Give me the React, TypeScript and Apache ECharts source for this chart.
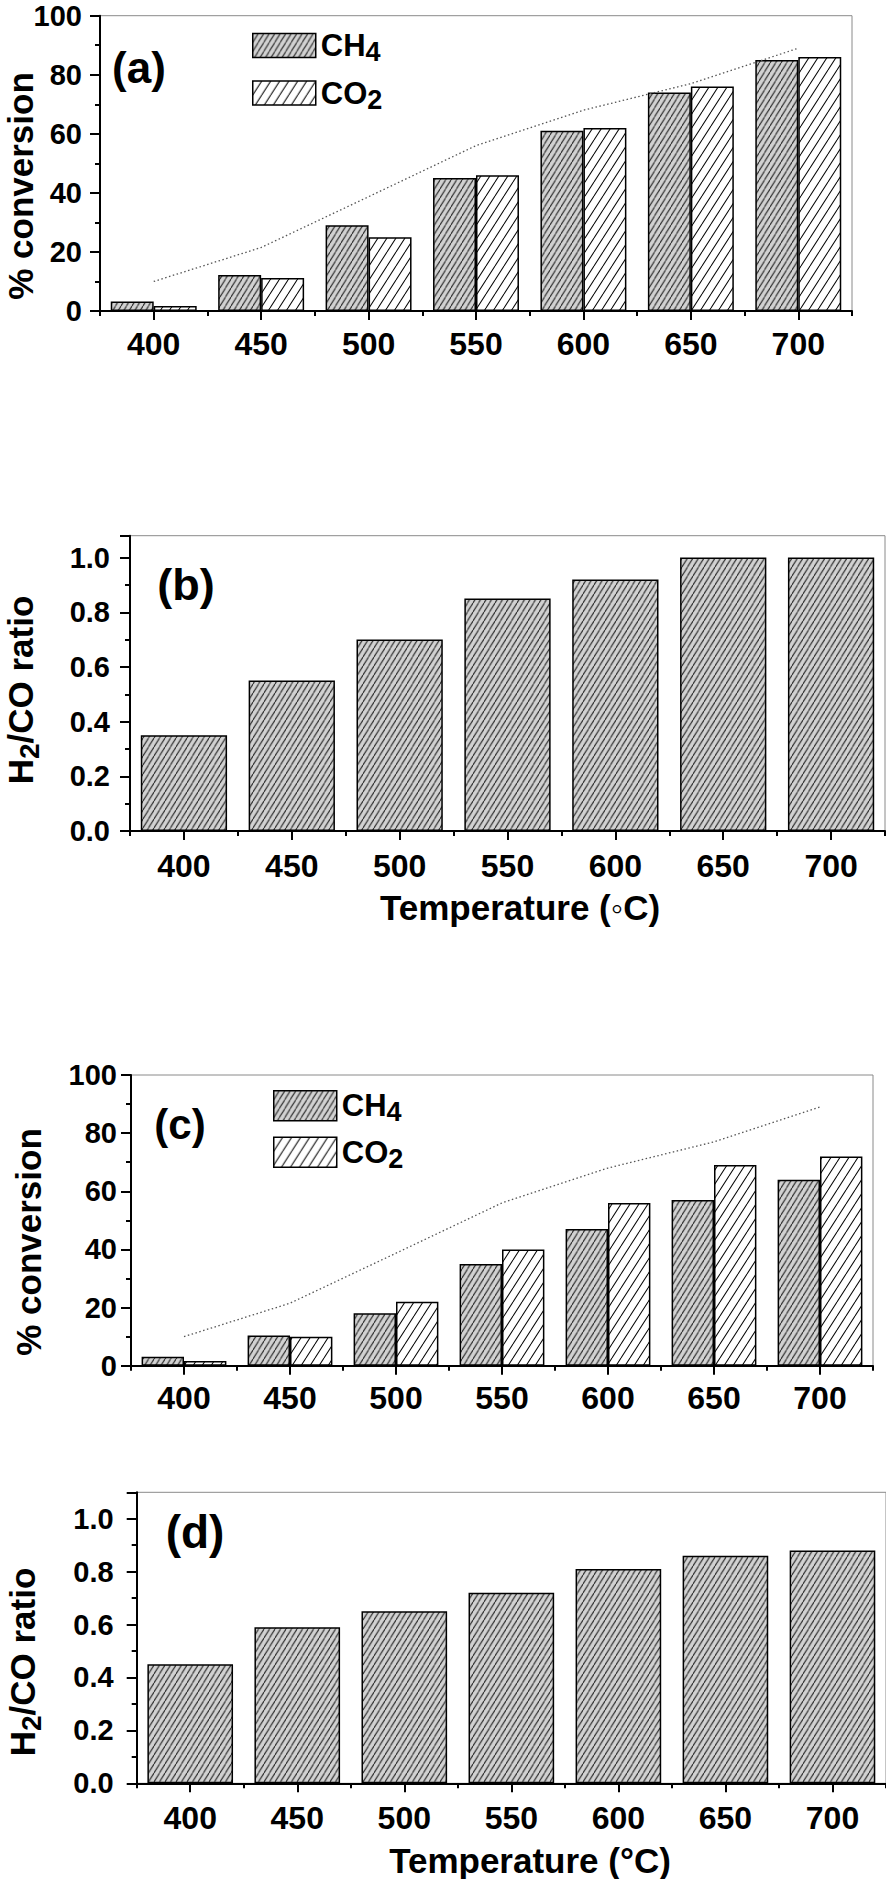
import React, { useEffect, useRef } from 'react';
import * as echarts from 'echarts';

// ---------- data ----------
const temperatures = ['400', '450', '500', '550', '600', '650', '700'];
const ch4ConversionA = [3.2, 12.2, 29, 45, 61, 74, 85];
const co2ConversionA = [1.7, 11.2, 25, 46, 62, 76, 86];
const equilibriumLine = [10, 21.5, 38.7, 56, 68, 77, 89];
const h2coRatioB = [0.35, 0.55, 0.7, 0.85, 0.92, 1.0, 1.0];
const ch4ConversionC = [3.1, 10.4, 18, 35, 47, 57, 64];
const co2ConversionC = [1.6, 10, 22, 40, 56, 69, 72];
const h2coRatioD = [0.45, 0.59, 0.65, 0.72, 0.81, 0.86, 0.88];

const FONT = 'Liberation Sans, Arial, Helvetica, sans-serif';

function hatch(bg: string, w: number, h: number, lw: number) {
  const s = 4;
  const c = document.createElement('canvas');
  c.width = w * s;
  c.height = h * s;
  const ctx = c.getContext('2d') as CanvasRenderingContext2D;
  ctx.fillStyle = bg;
  ctx.fillRect(0, 0, c.width, c.height);
  ctx.strokeStyle = '#000';
  ctx.lineWidth = lw * s;
  ctx.beginPath();
  for (const dx of [-w, 0, w]) {
    ctx.moveTo(dx * s, h * s);
    ctx.lineTo((dx + w) * s, 0);
  }
  ctx.stroke();
  return { image: c, repeat: 'repeat', imageWidth: w, imageHeight: h } as any;
}

export default function App() {
  const ref = useRef<HTMLDivElement>(null);

  useEffect(() => {
    if (!ref.current) return;
    const chart = echarts.init(ref.current, null, { renderer: 'svg' });
    const grayHatch = hatch('#d2d2d2', 5.5, 9, 0.9);
    const whiteHatch = hatch('#ffffff', 9, 14, 1);

    const grids = [
      { left: 100, top: 15.7, width: 752, height: 295.3 },
      { left: 130, top: 535.7, width: 755, height: 295.3 },
      { left: 131, top: 1075, width: 742, height: 290.7 },
      { left: 136.7, top: 1492.3, width: 752, height: 291 },
    ].map((g) => ({ ...g, show: true, borderColor: '#8a8a8a', borderWidth: 1, backgroundColor: 'transparent' }));

    const labelMargins = [16.5, 19, 16.5, 19];
    const xAxes: any[] = [];
    grids.forEach((_, i) => {
      xAxes.push({
        type: 'category',
        gridIndex: i,
        position: 'bottom',
        data: temperatures,
        boundaryGap: true,
        axisLine: { show: true, onZero: false, lineStyle: { color: '#000', width: 2 } },
        axisTick: { show: true, alignWithLabel: true, length: 9, lineStyle: { color: '#000', width: 2 } },
        axisLabel: { show: true, margin: labelMargins[i], color: '#000', fontSize: 32, fontWeight: 'bold', fontFamily: FONT },
        splitLine: { show: false },
      });
      xAxes.push({
        type: 'category',
        gridIndex: i,
        position: 'bottom',
        data: temperatures,
        boundaryGap: true,
        axisLine: { show: false, onZero: false },
        axisTick: { show: true, length: 5, lineStyle: { color: '#000', width: 2 } },
        axisLabel: { show: false },
        splitLine: { show: false },
      });
    });

    const yMax = [100, 1.08, 100, 1.1];
    const yInt = [20, 0.2, 20, 0.2];
    const yMargin = [18, 20, 14, 23];
    const yAxes = grids.map((_, i) => ({
      type: 'value',
      gridIndex: i,
      min: 0,
      max: yMax[i],
      interval: yInt[i],
      axisLine: { show: true, lineStyle: { color: '#000', width: 2 } },
      axisTick: { show: true, length: 10, lineStyle: { color: '#000', width: 2 } },
      minorTick: { show: true, splitNumber: 2, length: 5, lineStyle: { color: '#000', width: 2 } },
      splitLine: { show: false },
      minorSplitLine: { show: false },
      axisLabel: {
        margin: yMargin[i],
        color: '#000',
        fontSize: 29,
        fontWeight: 'bold',
        fontFamily: FONT,
        formatter: (v: number) => {
          if (i % 2 === 0) return Math.abs(v % 20) < 1e-6 ? String(v) : '';
          return Math.abs(v * 5 - Math.round(v * 5)) < 1e-6 ? v.toFixed(1) : '';
        },
      },
    }));

    const barStyle = (color: any) => ({ color, borderColor: '#000', borderWidth: 1.5 });
    const dotted = { color: '#555', width: 1.3, type: [1.5, 2.5] as any };

    const series: any[] = [
      { type: 'bar', name: 'CH4', xAxisIndex: 0, yAxisIndex: 0, data: ch4ConversionA, barWidth: '40%', barGap: '0%', itemStyle: barStyle(grayHatch) },
      { type: 'bar', name: 'CO2', xAxisIndex: 0, yAxisIndex: 0, data: co2ConversionA, barWidth: '40%', barGap: '0%', itemStyle: barStyle(whiteHatch) },
      { type: 'line', name: 'Equilibrium', xAxisIndex: 0, yAxisIndex: 0, data: equilibriumLine, symbol: 'none', showSymbol: false, lineStyle: dotted, z: 3 },
      { type: 'bar', name: 'H2/CO b', xAxisIndex: 2, yAxisIndex: 1, data: h2coRatioB, barWidth: '80%', itemStyle: barStyle(grayHatch) },
      { type: 'bar', name: 'CH4', xAxisIndex: 4, yAxisIndex: 2, data: ch4ConversionC, barWidth: '40%', barGap: '0%', itemStyle: barStyle(grayHatch) },
      { type: 'bar', name: 'CO2', xAxisIndex: 4, yAxisIndex: 2, data: co2ConversionC, barWidth: '40%', barGap: '0%', itemStyle: barStyle(whiteHatch) },
      { type: 'line', name: 'Equilibrium', xAxisIndex: 4, yAxisIndex: 2, data: equilibriumLine, symbol: 'none', showSymbol: false, lineStyle: dotted, z: 3 },
      { type: 'bar', name: 'H2/CO d', xAxisIndex: 6, yAxisIndex: 3, data: h2coRatioD, barWidth: '80%', itemStyle: barStyle(grayHatch) },
    ];

    const legendRich = {
      m: { fontSize: 31, fontWeight: 'bold', fontFamily: FONT, color: '#000', lineHeight: 40, verticalAlign: 'middle' },
      s: { fontSize: 27, fontWeight: 'bold', fontFamily: FONT, color: '#000', lineHeight: 20, verticalAlign: 'bottom' },
    };
    const legendFormatter = (name: string) => (name === 'CH4' ? '{m|CH}{s|4}' : '{m|CO}{s|2}');
    const legendBase = {
      orient: 'vertical',
      itemWidth: 63,
      itemTextGap: 9,
      icon: 'rect',
      selectedMode: false,
      data: ['CH4', 'CO2'],
      formatter: legendFormatter,
      textStyle: { rich: legendRich },
      itemStyle: { borderColor: '#000', borderWidth: 1.5 },
    };
    const legend = [
      { ...legendBase, left: 247, top: 25, itemHeight: 24, itemGap: 12 },
      { ...legendBase, left: 268, top: 1085, itemHeight: 30, itemGap: 10.7 },
    ];

    const titleRich = {
      m: { fontSize: 35, fontWeight: 'bold', fontFamily: FONT, fill: '#000', lineHeight: 46, verticalAlign: 'middle' },
      s: { fontSize: 28, fontWeight: 'bold', fontFamily: FONT, fill: '#000', lineHeight: 24, verticalAlign: 'bottom' },
    };
    const yTitle = (x: number, y: number, text: string) => ({
      type: 'text',
      x,
      y,
      rotation: Math.PI / 2,
      style: { text, rich: titleRich, align: 'center', verticalAlign: 'middle', fill: '#000' },
    });
    const plainText = (x: number, y: number, text: string, size: number) => ({
      type: 'text',
      x,
      y,
      style: { text, fontSize: size, fontWeight: 'bold', fontFamily: FONT, fill: '#000', align: 'center', verticalAlign: 'middle' },
    });

    const graphic = [
      plainText(139, 67, '(a)', 44),
      plainText(186, 584, '(b)', 45),
      plainText(180, 1124, '(c)', 42),
      plainText(195, 1532, '(d)', 46),
      yTitle(20, 186, '{m|% conversion}'),
      yTitle(20, 690, '{m|H}{s|2}{m|/CO ratio}'),
      yTitle(28, 1242, '{m|% conversion}'),
      yTitle(22, 1662, '{m|H}{s|2}{m|/CO ratio}'),
      plainText(520, 907, 'Temperature (\u25E6C)', 35),
      plainText(530, 1860, 'Temperature (\u00B0C)', 35),
    ];

    chart.setOption({
      animation: false,
      backgroundColor: '#fff',
      grid: grids,
      xAxis: xAxes,
      yAxis: yAxes,
      legend,
      series,
      graphic,
    } as any);

    return () => {
      chart.dispose();
    };
  }, []);

  return (
    <div
      ref={ref}
      style={{ position: 'absolute', left: 0, top: 0, width: 886, height: 1879, background: '#fff' }}
    />
  );
}
